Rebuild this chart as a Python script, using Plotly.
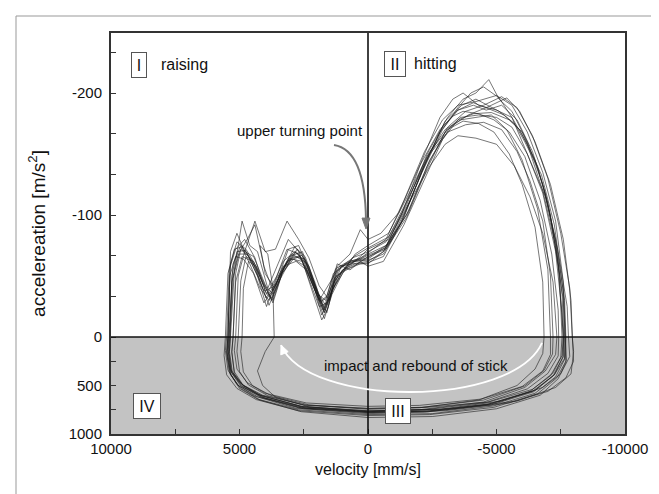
import plotly.graph_objects as go

# ---------------- data (velocity [mm/s], acceleration [m/s^2]) ----------------
loop01 = [(0,-67),(-700,-73),(-1500,-105),(-2340,-147),(-3000,-177),(-3650,-190),(-4200,-195),(-5100,-185),(-5700,-175),(-6100,-160),(-6750,-133),(-7250,-92),(-7600,-37),(-7670,0),(-7650,220),(-7250,390),(-6440,565),(-4800,700),(-2340,770),(0,775),(2570,720),(4210,600),(4870,500),(5280,360),(5390,150),(5360,0),(5300,-50),(5100,-70),(4770,-71),(4360,-56),(3970,-32),(3560,-45),(3070,-64),(2570,-67),(2250,-51),(1840,-29),(1590,-34),(1260,-56),(770,-62),(280,-64),(0,-67)]
loop02 = [(0,-60),(-600,-70),(-1300,-95),(-2100,-135),(-2900,-170),(-3500,-188),(-4000,-200),(-4500,-205),(-5100,-196),(-5600,-180),(-6200,-150),(-6900,-115),(-7400,-70),(-7750,-25),(-7800,0),(-7850,200),(-7500,380),(-6800,520),(-5200,660),(-2800,745),(0,760),(2600,715),(4300,590),(5000,470),(5350,330),(5450,130),(5420,0),(5250,-60),(4950,-75),(4600,-60),(4200,-40),(3850,-30),(3450,-50),(2950,-68),(2500,-62),(2100,-40),(1750,-22),(1450,-40),(1000,-55),(500,-60),(0,-60)]
loop03 = [(0,-72),(-800,-80),(-1600,-110),(-2400,-140),(-3000,-158),(-3500,-165),(-4200,-163),(-5000,-158),(-5700,-140),(-6300,-115),(-6800,-85),(-7200,-45),(-7350,0),(-7300,180),(-6900,350),(-6100,520),(-4500,670),(-2000,750),(0,770),(2400,735),(4000,630),(4800,520),(5200,380),(5300,160),(5250,0),(5150,-45),(4900,-66),(4500,-62),(4100,-45),(3700,-28),(3300,-55),(2800,-70),(2300,-58),(1900,-32),(1600,-20),(1300,-48),(800,-58),(300,-66),(0,-72)]
loop04 = [(0,-65),(-700,-75),(-1500,-100),(-2300,-140),(-3100,-172),(-3800,-185),(-4500,-190),(-5200,-197),(-5800,-188),(-6400,-165),(-7000,-130),(-7500,-85),(-7850,-40),(-7950,0),(-8000,250),(-7700,420),(-7000,560),(-5500,680),(-3000,760),(0,780),(2800,735),(4400,610),(5100,490),(5450,340),(5550,140),(5500,0),(5400,-55),(5150,-72),(4800,-80),(4400,-65),(4000,-38),(3600,-42),(3100,-72),(2700,-75),(2300,-55),(1950,-35),(1650,-30),(1350,-52),(900,-60),(400,-63),(0,-65)]
loop05 = [(0,-58),(-600,-62),(-1400,-92),(-2200,-130),(-2900,-162),(-3500,-178),(-4100,-183),(-4800,-184),(-5500,-178),(-6000,-168),(-6600,-140),(-7100,-100),(-7450,-50),(-7550,0),(-7500,210),(-7100,400),(-6300,560),(-4600,700),(-2200,775),(0,790),(2500,740),(4100,625),(4900,510),(5300,370),(5400,170),(5350,0),(5200,-55),(4900,-95),(4600,-75),(4300,-70),(3900,-40),(3500,-60),(3100,-80),(2700,-70),(2300,-48),(1900,-25),(1600,-28),(1200,-60),(700,-55),(300,-62),(0,-58)]
loop06 = [(0,-70),(-700,-78),(-1500,-108),(-2300,-150),(-3100,-180),(-3700,-195),(-4200,-200),(-4700,-211),(-5100,-195),(-5600,-185),(-6200,-160),(-6800,-125),(-7300,-80),(-7650,-30),(-7700,0),(-7650,230),(-7300,410),(-6500,580),(-4900,710),(-2500,790),(0,800),(2700,750),(4300,640),(5000,530),(5350,380),(5450,180),(5400,0),(5300,-45),(5050,-68),(4700,-68),(4300,-50),(3950,-25),(3550,-48),(3050,-66),(2550,-70),(2150,-45),(1800,-18),(1500,-32),(1150,-55),(600,-65),(200,-68),(0,-70)]
loop07 = [(0,-75),(-800,-85),(-1600,-118),(-2400,-152),(-3100,-170),(-3700,-177),(-4300,-175),(-4900,-168),(-5500,-150),(-6000,-125),(-6500,-90),(-6800,-45),(-6850,0),(-6800,170),(-6500,330),(-5800,500),(-4300,650),(-2000,730),(0,745),(2300,700),(3800,600),(4500,500),(4850,360),(4950,150),(4900,0),(4850,-40),(4650,-62),(4350,-58),(4000,-42),(3700,-35),(3300,-58),(2800,-62),(2400,-55),(2000,-35),(1700,-15),(1400,-35),(1000,-52),(500,-68),(0,-75)]
loop08 = [(0,-62),(-600,-70),(-1300,-100),(-2100,-145),(-2800,-180),(-3300,-195),(-3700,-200),(-4300,-190),(-5000,-186),(-5600,-180),(-6200,-158),(-6800,-120),(-7300,-75),(-7600,-30),(-7650,0),(-7700,260),(-7400,430),(-6700,600),(-5000,740),(-2500,820),(0,830),(2600,770),(4200,650),(4950,530),(5350,390),(5480,200),(5450,0),(5350,-60),(5100,-78),(4750,-72),(4350,-58),(3950,-35),(3550,-50),(3150,-72),(2700,-68),(2300,-50),(1900,-30),(1550,-42),(1100,-58),(600,-60),(0,-62)]
loop09 = [(0,-80),(-500,-85),(-1200,-102),(-2000,-140),(-2800,-170),(-3500,-186),(-4100,-192),(-4700,-187),(-5300,-182),(-5900,-170),(-6500,-145),(-7000,-110),(-7400,-60),(-7600,0),(-7550,190),(-7200,370),(-6400,540),(-4700,670),(-2300,725),(0,735),(2500,700),(4100,600),(4900,490),(5350,350),(5500,150),(5450,0),(5350,-70),(5100,-85),(4800,-70),(4400,-95),(4000,-70),(3600,-72),(3150,-95),(2700,-80),(2300,-65),(1900,-42),(1500,-30),(1200,-58),(700,-68),(300,-88),(0,-80)]
loop10 = [(0,-66),(-700,-72),(-1500,-98),(-2300,-138),(-3000,-168),(-3600,-180),(-4300,-182),(-5000,-180),(-5600,-172),(-6200,-150),(-6800,-118),(-7300,-70),(-7550,-20),(-7600,0),(-7600,200),(-7250,390),(-6500,550),(-4800,690),(-2400,760),(0,770),(2300,720),(3600,620),(4100,500),(4300,350),(4000,150),(3650,0),(3700,-40),(3900,-68),(4200,-75),(4000,-52),(3700,-42),(3300,-62),(2850,-70),(2400,-60),(2000,-38),(1700,-22),(1350,-40),(900,-55),(400,-60),(0,-66)]
loop11 = [(0,-68),(-800,-76),(-1600,-104),(-2400,-145),(-3200,-172),(-3900,-182),(-4600,-188),(-5400,-196),(-5900,-185),(-6500,-160),(-7100,-125),(-7600,-80),(-7900,-30),(-7950,0),(-8000,150),(-7900,380),(-7300,520),(-5800,660),(-3300,740),(0,765),(2700,730),(4300,615),(5050,500),(5400,360),(5500,160),(5450,0),(5380,-50),(5150,-66),(4850,-64),(4450,-52),(4050,-28),(3650,-40),(3150,-62),(2650,-66),(2250,-50),(1850,-28),(1550,-34),(1200,-54),(700,-62),(250,-65),(0,-68)]
loop12 = [(0,-64),(-700,-74),(-1500,-110),(-2300,-148),(-3000,-170),(-3600,-178),(-4200,-180),(-4800,-182),(-5400,-170),(-6000,-145),(-6600,-105),(-7000,-55),(-7100,0),(-7100,180),(-6800,350),(-6000,510),(-4400,640),(-2000,705),(0,715),(2400,680),(4000,580),(4700,470),(5100,330),(5200,140),(5150,0),(5050,-50),(4800,-70),(4450,-66),(4100,-48),(3750,-30),(3350,-52),(2900,-66),(2450,-64),(2050,-42),(1700,-24),(1400,-38),(1000,-54),(500,-62),(0,-64)]
loop13 = [(0,-63),(-600,-68),(-1400,-98),(-2200,-142),(-2900,-172),(-3500,-186),(-4100,-190),(-4600,-186),(-5200,-190),(-5800,-178),(-6400,-152),(-6900,-118),(-7300,-78),(-7550,-35),(-7620,0),(-7580,210),(-7200,400),(-6400,560),(-4700,690),(-2300,765),(0,778),(2600,730),(4200,615),(4950,505),(5320,365),(5420,165),(5380,0),(5250,-48),(5000,-70),(4700,-80),(4400,-92),(4050,-58),(3700,-38),(3300,-56),(2850,-74),(2450,-66),(2050,-44),(1700,-20),(1400,-36),(1050,-58),(550,-62),(0,-63)]
loop14 = [(0,-69),(-700,-80),(-1400,-112),(-2200,-152),(-2900,-178),(-3500,-190),(-4200,-193),(-5000,-198),(-5600,-190),(-6200,-168),(-6800,-135),(-7300,-95),(-7600,-45),(-7700,0),(-7720,240),(-7350,420),(-6600,585),(-4900,725),(-2400,800),(0,810),(2700,760),(4350,645),(5100,530),(5500,390),(5600,190),(5550,0),(5450,-52),(5200,-72),(4900,-74),(4500,-62),(4100,-40),(3700,-30),(3250,-58),(2750,-72),(2350,-60),(1950,-36),(1650,-26),(1300,-46),(850,-58),(350,-64),(0,-69)]
loop15 = [(0,-61),(-600,-66),(-1300,-94),(-2100,-136),(-2800,-168),(-3300,-181),(-3700,-185),(-4300,-183),(-4900,-178),(-5500,-168),(-6100,-148),(-6700,-112),(-7150,-68),(-7400,-22),(-7420,0),(-7400,195),(-7000,375),(-6200,535),(-4600,675),(-2200,750),(0,762),(2500,720),(4100,610),(4850,500),(5200,360),(5300,150),(5250,0),(5150,-52),(4950,-72),(4650,-66),(4250,-48),(3850,-26),(3450,-46),(3000,-64),(2550,-62),(2150,-36),(1800,-14),(1550,-24),(1250,-50),(750,-56),(300,-60),(0,-61)]
loop16 = [(0,-73),(-800,-82),(-1600,-115),(-2400,-150),(-3100,-168),(-3800,-174),(-4500,-176),(-5200,-170),(-5800,-152),(-6300,-128),(-6800,-95),(-7100,-50),(-7200,0),(-7180,175),(-6850,345),(-6100,505),(-4500,650),(-2100,725),(0,738),(2400,705),(3900,605),(4650,495),(5000,355),(5100,150),(5050,0),(4950,-46),(4750,-66),(4450,-62),(4100,-44),(3750,-32),(3350,-52),(2900,-64),(2450,-58),(2050,-38),(1700,-20),(1400,-38),(1000,-54),(550,-66),(0,-73)]

loops = [loop01, loop02, loop03, loop04, loop05, loop06, loop07, loop08,
         loop09, loop10, loop11, loop12, loop13, loop14, loop15, loop16]

x_tick_vals = [10000, 5000, 0, -5000, -10000]
x_tick_text = ["10000", "5000", "0", "-5000", "-10000"]
x_minor_vals = [7500, 2500, -2500, -7500]
y_tick_accel = [-200, -100, 0, 500, 1000]
y_tick_text = ["-200", "-100", "0", "500", "1000"]
y_minor_accel = [-233.3, -166.7, -133.3, -66.7, -33.3, 250, 750]

# broken acceleration scale: negative part 1 unit, positive part compressed
K_POS = 0.0795
def ydisp(a):
    return -a if a <= 0 else -a * K_POS

FONT = "Liberation Sans Narrow, Arial Narrow, Liberation Sans, Arial, sans-serif"

fig = go.Figure()
for lp in loops:
    fig.add_trace(go.Scatter(
        x=[p[0] for p in lp], y=[ydisp(p[1]) for p in lp],
        mode="lines", line=dict(color="rgba(25,25,25,0.7)", width=0.85),
        hoverinfo="skip", showlegend=False))

y_lo, y_hi = ydisp(1000), 249.2

shapes = [
    dict(type="rect", xref="paper", yref="y", x0=0, x1=1, y0=y_lo, y1=0,
         fillcolor="#c3c3c3", line=dict(width=0), layer="below"),
    dict(type="line", xref="paper", yref="y", x0=0, x1=1, y0=0, y1=0,
         line=dict(color="#111", width=1.6)),
    dict(type="line", xref="x", yref="paper", x0=0, x1=0, y0=0, y1=1,
         line=dict(color="#111", width=1.6)),
    # upper turning point arrow (curved) + head
    dict(type="path", xref="x", yref="y",
         path="M 1323,157.4 Q 117,153.3 78,96",
         line=dict(color="#777", width=2)),
    dict(type="path", xref="x", yref="y",
         path="M 78,88.5 L 233,97.5 L -78,97.5 Z",
         fillcolor="#777", line=dict(color="#777", width=1)),
    # impact and rebound arc (white) + head
    dict(type="path", xref="x", yref="y",
         path="M -6770,-4.9 C -5642,-58.2 2335,-58.2 3385,-6.6",
         line=dict(color="white", width=1.8)),
    dict(type="path", xref="x", yref="y",
         path="M 3385,-6.56 L 3105,-12.05 L 3393,-14.67 Z",
         fillcolor="white", line=dict(color="white", width=1)),
    # outer frame
    dict(type="rect", xref="paper", yref="paper",
         x0=(8-103)/514, x1=(651-103)/514, y0=(426-487)/401, y1=(426-8)/401,
         line=dict(color="#999", width=1)),
]

def box(x, y, t, w):
    return dict(x=x, y=y, xref="x", yref="y", text=t, showarrow=False,
                font=dict(family=FONT, size=16, color="#111"),
                bgcolor="white", bordercolor="#555", borderwidth=1,
                borderpad=1, width=w, height=22)

annotations = [
    box(8911, 222.9, "I", 12), box(-1051, 223.8, "II", 18),
    box(-1167, -60.7, "III", 22), box(8599, -56.6, "IV", 24),
    dict(x=8132, y=223.2, xref="x", yref="y", text="raising", showarrow=False,
         xanchor="left", font=dict(family=FONT, size=16, color="#111")),
    dict(x=-1712, y=224.0, xref="x", yref="y", text="hitting", showarrow=False,
         xanchor="left", font=dict(family=FONT, size=16, color="#111")),
    dict(x=2646, y=168.9, xref="x", yref="y", text="upper turning point",
         showarrow=False, font=dict(family=FONT, size=15, color="#111")),
    dict(x=-1868, y=-23, xref="x", yref="y", text="impact and rebound of stick",
         showarrow=False, font=dict(family=FONT, size=15, color="#111")),
]

fig.update_layout(
    width=659, height=494, margin=dict(l=103, r=42, t=25, b=68),
    paper_bgcolor="white", plot_bgcolor="white",
    font=dict(family=FONT, size=14, color="#111"),
    shapes=shapes, annotations=annotations, showlegend=False,
)
fig.update_xaxes(
    range=[10000, -10000], autorange=False,
    tickmode="array", tickvals=x_tick_vals, ticktext=x_tick_text,
    ticks="inside", ticklen=5, tickcolor="#333", tickwidth=1.2,
    minor=dict(tickmode="array", tickvals=x_minor_vals, ticks="inside",
               ticklen=5, tickcolor="#333", tickwidth=1.2),
    showgrid=False, zeroline=False, showline=True, mirror=True,
    linecolor="#333", linewidth=2,
    tickfont=dict(family=FONT, size=15, color="#111"),
    title=dict(text="velocity [mm/s]", font=dict(family=FONT, size=16, color="#111"), standoff=8),
)
fig.update_yaxes(
    range=[y_lo, y_hi], autorange=False,
    tickmode="array", tickvals=[ydisp(a) for a in y_tick_accel], ticktext=y_tick_text,
    ticks="inside", ticklen=5, tickcolor="#333", tickwidth=1.2,
    minor=dict(tickmode="array", tickvals=[ydisp(a) for a in y_minor_accel], ticks="inside",
               ticklen=5, tickcolor="#333", tickwidth=1.2),
    showgrid=False, zeroline=False, showline=True, mirror=True,
    linecolor="#333", linewidth=2, ticklabelstandoff=4,
    tickfont=dict(family=FONT, size=15, color="#111"),
    title=dict(text="accelereation [m/s<sup>2</sup>]", font=dict(family=FONT, size=19, color="#111"), standoff=18),
)

fig.write_html("out.html")
